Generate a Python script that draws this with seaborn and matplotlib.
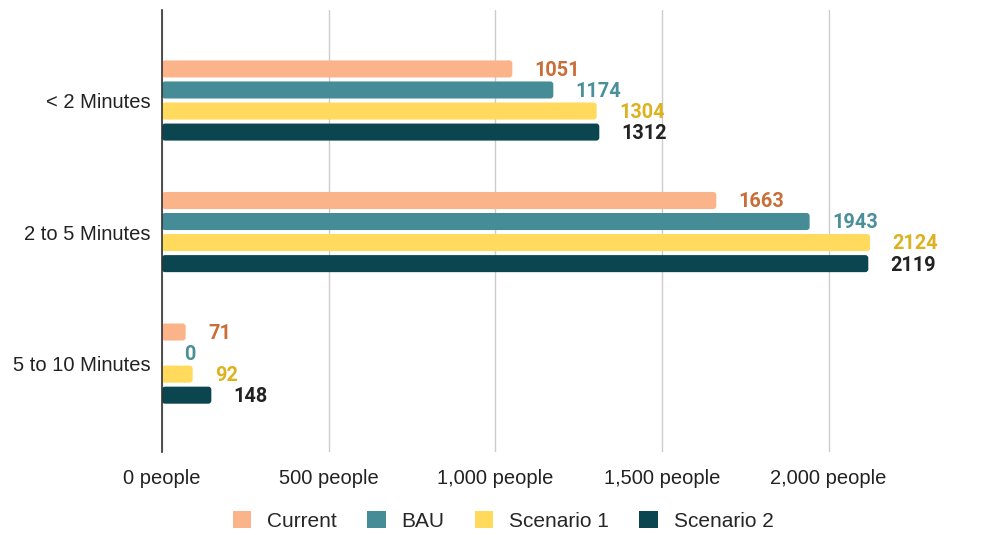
import matplotlib
matplotlib.use("Agg")
import matplotlib.pyplot as plt
import seaborn as sns
import pandas as pd
from matplotlib.patches import FancyBboxPatch, Patch

categories = ["< 2 Minutes", "2 to 5 Minutes", "5 to 10 Minutes"]
series = ["Current", "BAU", "Scenario 1", "Scenario 2"]
current = [1051, 1663, 71]
bau = [1174, 1943, 0]
scenario1 = [1304, 2124, 92]
scenario2 = [1312, 2119, 148]
xticks = [0, 500, 1000, 1500, 2000]
xticklabels = ["0 people", "500 people", "1,000 people", "1,500 people", "2,000 people"]

bar_colors = ["#FBB48A", "#468C96", "#FFDA5C", "#0B4650"]
label_colors = ["#C96E36", "#4A8F99", "#DDB21F", "#222222"]

rows = []
for s, vals in zip(series, [current, bau, scenario1, scenario2]):
    for c, v in zip(categories, vals):
        rows.append({"cat": c, "series": s, "value": v})
df = pd.DataFrame(rows)

sns.set_style("white")
plt.rcParams["font.family"] = ["Liberation Sans", "DejaVu Sans"]

fig = plt.figure(figsize=(9.86, 5.35), dpi=100)
ax = fig.add_axes([162 / 986, 83 / 535, 733.3 / 986, 442 / 535])

sns.barplot(data=df, y="cat", x="value", hue="series", order=categories,
            hue_order=series, palette=bar_colors, orient="h", width=0.64,
            gap=0.19, legend=False, ax=ax, saturation=1, errorbar=None)

ax.set_xlim(0, 2200)
ax.set_ylim(2.672, -0.688)

# rounded bars
px_x = 2200 / 733.3
px_y = 3.36 / 442
aspect = px_y / px_x
patches = list(ax.patches)
for p in patches:
    x, y = p.get_x(), p.get_y()
    w, h = p.get_width(), p.get_height()
    fc = p.get_facecolor()
    p.remove()
    if w <= 0:
        continue
    r = min(3 * px_x, w / 2)
    fb = FancyBboxPatch((x, y), w, h,
                        boxstyle=f"round,pad=0,rounding_size={r}",
                        mutation_aspect=aspect, facecolor=fc, edgecolor="none",
                        zorder=3)
    ax.add_patch(fb)
    fb.set_clip_on(False)

# value labels
n = len(series)
slot = 0.64 / n
for i, (s, vals) in enumerate(zip(series, [current, bau, scenario1, scenario2])):
    for j, v in enumerate(vals):
        yc = j - 0.32 + slot * (i + 0.5)
        ax.annotate(f"{v}", xy=(v, yc), xytext=(16, -1), textcoords="offset points",
                    ha="left", va="center", fontsize=14.3, fontweight="bold",
                    color=label_colors[i], family=["Roboto", "DejaVu Sans"])

ax.set_xticks(xticks)
ax.set_xticklabels(xticklabels, fontsize=14.5, color="#222222")
ax.tick_params(axis="x", length=0, pad=12)
ax.tick_params(axis="y", length=0, pad=8, labelsize=14.5, labelcolor="#222222")
ax.set_xlabel("")
ax.set_ylabel("")
ax.grid(axis="x", color="#cccccc", linewidth=1, zorder=0)
ax.set_axisbelow(True)
for sp in ["top", "right", "bottom"]:
    ax.spines[sp].set_visible(False)
ax.spines["left"].set_color("#333333")
ax.spines["left"].set_linewidth(1.2)
ax.spines["left"].set_zorder(5)

handles = [Patch(facecolor=c, edgecolor="none") for c in bar_colors]
fig.legend(handles, series, loc="center", bbox_to_anchor=(503 / 986, 1 - 521 / 535),
           ncol=4, frameon=False, fontsize=15, handlelength=0.9, handleheight=0.9,
           columnspacing=1.45, handletextpad=0.75)

fig.savefig("out.png", dpi=100)
